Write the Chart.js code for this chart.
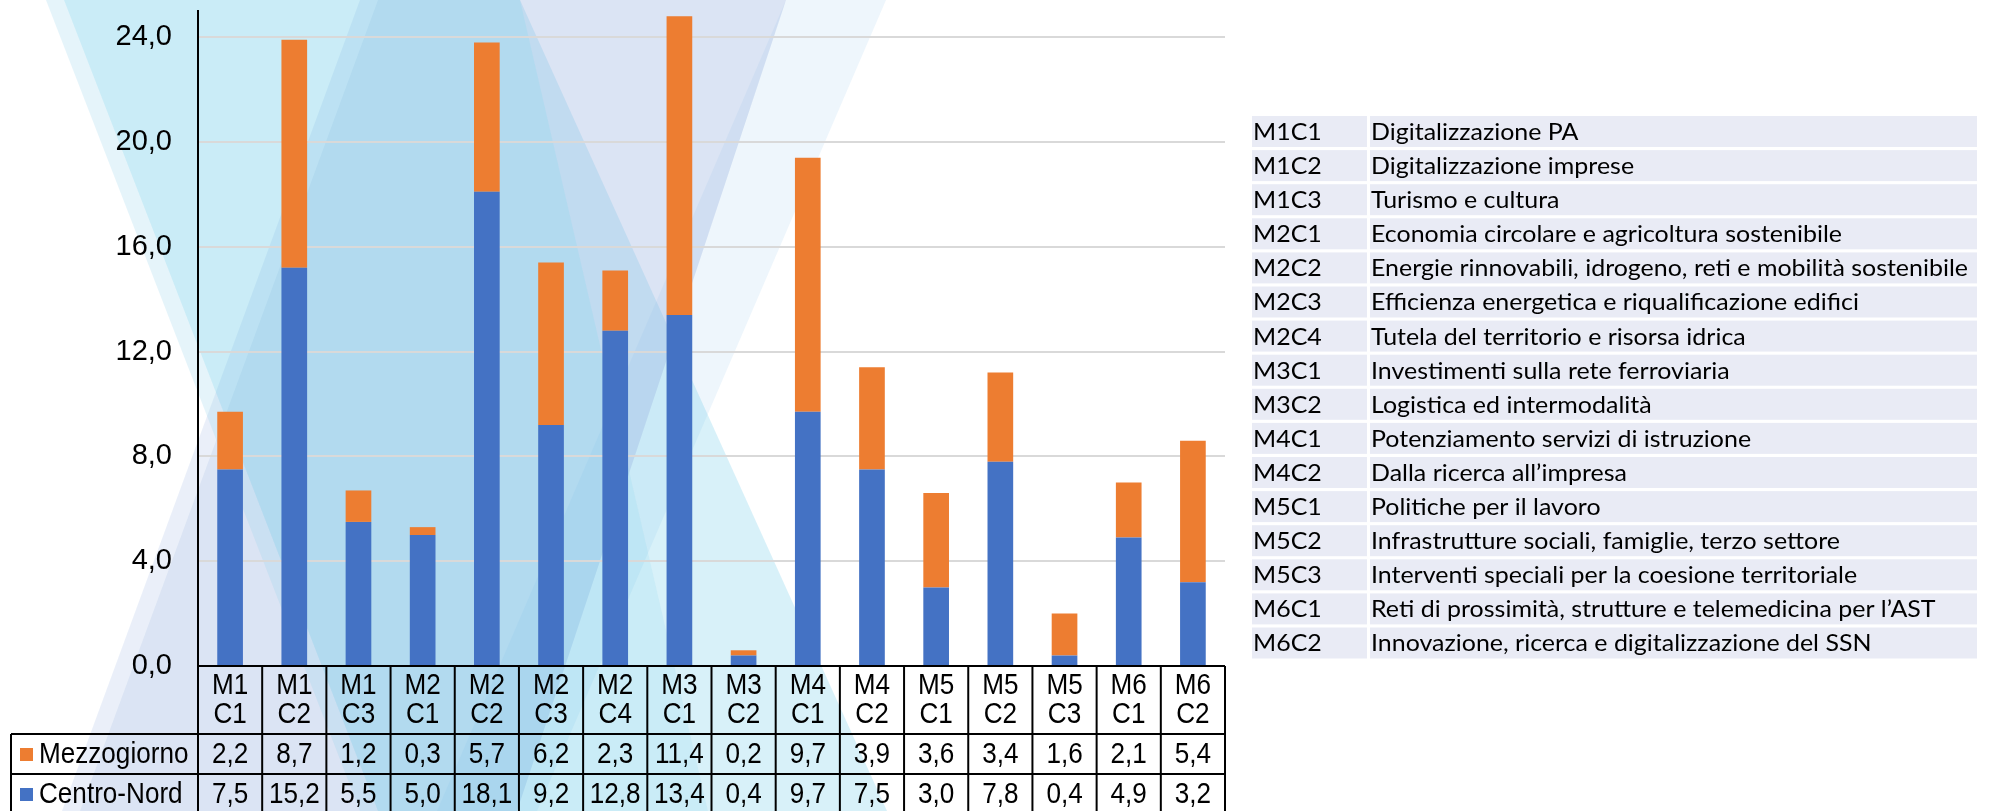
<!DOCTYPE html>
<html>
<head>
<meta charset="utf-8">
<script src="https://cdn.jsdelivr.net/npm/chart.js@4/dist/chart.umd.min.js"></script>
<style>
  html, body { margin: 0; padding: 0; background: #fff; }
  canvas { display: block; }
</style>
</head>
<body>
<canvas id="chart" width="1989" height="811"></canvas>
<script>
const categories = ["M1C1", "M1C2", "M1C3", "M2C1", "M2C2", "M2C3", "M2C4", "M3C1",
                    "M3C2", "M4C1", "M4C2", "M5C1", "M5C2", "M5C3", "M6C1", "M6C2"];
const mezzogiorno = [2.2, 8.7, 1.2, 0.3, 5.7, 6.2, 2.3, 11.4, 0.2, 9.7, 3.9, 3.6, 3.4, 1.6, 2.1, 5.4];
const centroNord = [7.5, 15.2, 5.5, 5.0, 18.1, 9.2, 12.8, 13.4, 0.4, 9.7, 7.5, 3.0, 7.8, 0.4, 4.9, 3.2];
const yTicks = [0, 4, 8, 12, 16, 20, 24];
const descriptions = [
  "Digitalizzazione PA",
  "Digitalizzazione imprese",
  "Turismo e cultura",
  "Economia circolare e agricoltura sostenibile",
  "Energie rinnovabili, idrogeno, reti e mobilità sostenibile",
  "Efficienza energetica e riqualificazione edifici",
  "Tutela del territorio e risorsa idrica",
  "Investimenti sulla rete ferroviaria",
  "Logistica ed intermodalità",
  "Potenziamento servizi di istruzione",
  "Dalla ricerca all’impresa",
  "Politiche per il lavoro",
  "Infrastrutture sociali, famiglie, terzo settore",
  "Interventi speciali per la coesione territoriale",
  "Reti di prossimità, strutture e telemedicina per l’AST",
  "Innovazione, ricerca e digitalizzazione del SSN"
];

const BLUE = "#4472C4";
const ORANGE = "#ED7D31";
const fmt = v => v.toFixed(1).replace(".", ",");

// sfondo decorativo (fasce trasparenti del template)
const backdrop = {
  id: "backdrop",
  beforeDraw(chart) {
    const ctx = chart.ctx;
    ctx.save();
    ctx.fillStyle = "#fff";
    ctx.fillRect(0, 0, chart.width, chart.height);
    const shapes = [
      { pts: [[786, 0], [886, 0], [537, 811], [437, 811]], c: "rgba(170,210,240,0.2)" },
      { pts: [[520, 0], [887, 811], [708, 811]], c: "rgba(100,200,230,0.25)" },
      { pts: [[62, 811], [80, 811], [378, 0], [360, 0]], c: "rgba(170,190,230,0.25)" },
      { pts: [[80, 811], [517, 811], [786, 0], [378, 0]], c: "rgba(150,175,222,0.34)" },
      { pts: [[46, 0], [64, 0], [378, 811], [360, 811]], c: "rgba(150,210,235,0.25)" },
      { pts: [[64, 0], [520, 0], [708, 811], [378, 811]], c: "rgba(95,198,230,0.33)" }
    ];
    shapes.forEach(s => {
      ctx.beginPath();
      s.pts.forEach((p, i) => i ? ctx.lineTo(p[0], p[1]) : ctx.moveTo(p[0], p[1]));
      ctx.closePath();
      ctx.fillStyle = s.c;
      ctx.fill();
    });
    ctx.restore();
  }
};

// tabella dati sotto il grafico e legenda delle componenti a destra
const tables = {
  id: "tables",
  afterDraw(chart) {
    const ctx = chart.ctx;
    const area = chart.chartArea;
    const xs = chart.scales.x;
    const n = categories.length;
    const colW = (area.right - area.left) / n;
    const top = area.bottom;
    const hdrB = top + 68, r1B = hdrB + 40, r2B = r1B + 40;
    const leftX = 11;
    const sx = 0.9;

    ctx.save();
    ctx.strokeStyle = "#000";
    ctx.lineWidth = 2;
    const line = (x1, y1, x2, y2) => { ctx.beginPath(); ctx.moveTo(x1, y1); ctx.lineTo(x2, y2); ctx.stroke(); };
    line(area.left, top, area.right, top);
    line(leftX, hdrB, area.right, hdrB);
    line(leftX, r1B, area.right, r1B);
    line(leftX, r2B, area.right, r2B);
    line(leftX, hdrB, leftX, r2B);
    for (let i = 0; i <= n; i++) {
      const x = area.left + i * colW;
      line(x, top, x, r2B);
    }

    const text = (s, x, y) => {
      ctx.save();
      ctx.translate(x, y);
      ctx.scale(sx, 1);
      ctx.fillText(s, 0, 0);
      ctx.restore();
    };

    ctx.fillStyle = "#000";
    ctx.textAlign = "center";
    ctx.textBaseline = "middle";
    ctx.font = "29px 'Liberation Sans', Arial, sans-serif";
    categories.forEach((c, i) => {
      const x = xs.getPixelForValue(i);
      text(c.slice(0, 2), x, top + 20);
      text(c.slice(2), x, top + 49);
      text(fmt(mezzogiorno[i]), x, (hdrB + r1B) / 2 + 1);
      text(fmt(centroNord[i]), x, (r1B + r2B) / 2 + 1);
    });

    ctx.textAlign = "left";
    [[ORANGE, "Mezzogiorno", (hdrB + r1B) / 2], [BLUE, "Centro-Nord", (r1B + r2B) / 2]].forEach(([col, name, y]) => {
      ctx.fillStyle = col;
      ctx.fillRect(20, y - 6, 13, 13);
      ctx.fillStyle = "#000";
      text(name, 39, y + 1);
    });

    // tabella a destra
    const tx = 1252, codeW = 115, dx = 1370, tr = 1977, ty = 116, pitch = 34.1, rowH = 31;
    ctx.font = "23px Lato, 'Open Sans', sans-serif";
    const longest = Math.max(...descriptions.map(d => ctx.measureText(d).width));
    const f = 597 / longest;
    categories.forEach((c, i) => {
      const y = ty + i * pitch;
      ctx.fillStyle = "#E9EBF5";
      ctx.fillRect(tx, y, codeW, rowH);
      ctx.fillRect(dx, y, tr - dx, rowH);
      ctx.fillStyle = "#000";
      [[c, tx + 1], [descriptions[i], dx + 1]].forEach(([s, x]) => {
        ctx.save();
        ctx.translate(x, y + rowH / 2 + 1);
        ctx.scale(f, 1);
        ctx.fillText(s, 0, 0);
        ctx.restore();
      });
    });
    ctx.restore();
  }
};

new Chart(document.getElementById("chart").getContext("2d"), {
  type: "bar",
  data: {
    labels: categories,
    datasets: [
      { label: "Centro-Nord", data: centroNord, backgroundColor: BLUE, barPercentage: 0.4, categoryPercentage: 1.0 },
      { label: "Mezzogiorno", data: mezzogiorno, backgroundColor: ORANGE, barPercentage: 0.4, categoryPercentage: 1.0 }
    ]
  },
  options: {
    responsive: false,
    animation: false,
    layout: { padding: { top: 11, right: 764, bottom: 145, left: 0 } },
    plugins: { legend: { display: false }, tooltip: { enabled: false }, title: { display: false } },
    scales: {
      x: { stacked: true, display: false },
      y: {
        stacked: true,
        min: 0,
        max: 25,
        afterBuildTicks: s => { s.ticks = yTicks.map(v => ({ value: v })); },
        afterFit: s => { s.width = 198; s.paddingTop = 0; s.paddingBottom = 0; },
        ticks: {
          color: "#000",
          padding: 26,
          font: { family: "'Liberation Sans', Arial, sans-serif", size: 29 },
          callback: v => fmt(v)
        },
        grid: { color: "#D9D9D9", lineWidth: 2, drawTicks: false },
        border: { display: true, color: "#000", width: 2 }
      }
    }
  },
  plugins: [backdrop, tables]
});
</script>
</body>
</html>
